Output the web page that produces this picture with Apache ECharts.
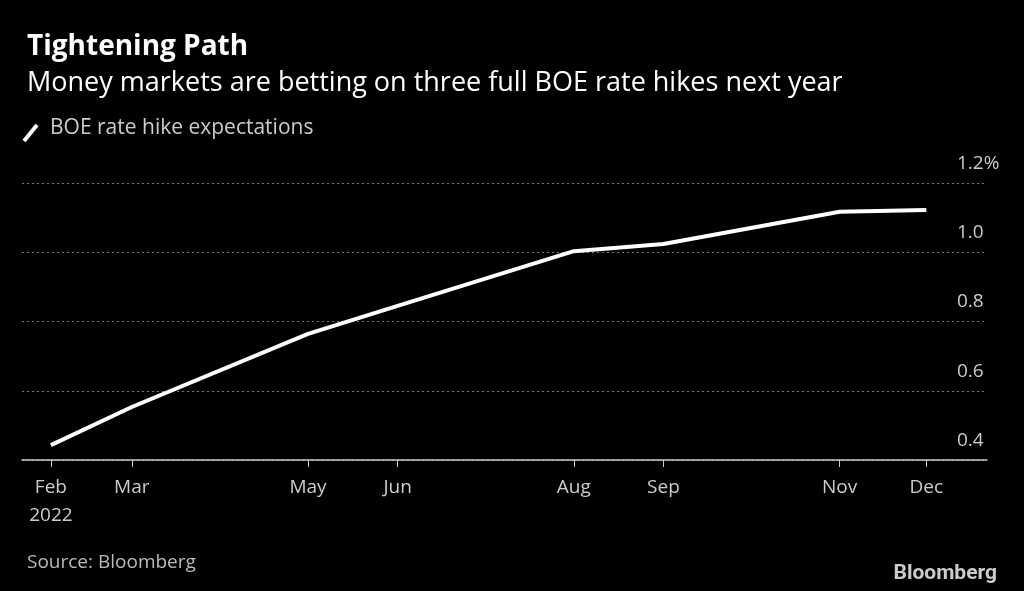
<!DOCTYPE html>
<html><head><meta charset="utf-8">
<script src="https://cdn.jsdelivr.net/npm/echarts@6/dist/echarts.min.js"></script>
<style>html,body{margin:0;background:#000}#c{width:1024px;height:591px}</style>
</head><body><div id="c"></div>
<script>
const dates = ['2022-02-01','2022-03-01','2022-05-01','2022-06-01','2022-08-01','2022-09-01','2022-11-01','2022-12-01'];
const values = [0.443, 0.553, 0.764, 0.845, 1.003, 1.024, 1.117, 1.122];
const tickDates = dates;
const monthNames = ['Jan','Feb','Mar','Apr','May','Jun','Jul','Aug','Sep','Oct','Nov','Dec'];
const ts = d => Date.UTC(+d.slice(0,4), +d.slice(5,7) - 1, +d.slice(8,10));
const ff = '"Open Sans", "Noto Sans", sans-serif';

const chart = echarts.init(document.getElementById('c'));
chart.setOption({
  backgroundColor: '#000',
  animation: false,
  title: [
    {text: 'Tightening Path', left: 22, top: 28, textStyle: {color: '#fff', fontSize: 28, fontWeight: 'bold', fontFamily: ff}},
    {text: 'Money markets are betting on three full BOE rate hikes next year', left: 22, top: 65, textStyle: {color: '#fff', fontSize: 27, fontWeight: 'normal', fontFamily: ff}},
    {text: 'Source: Bloomberg', left: 22, top: 548, textStyle: {color: '#bbb', fontSize: 19, fontWeight: 'normal', fontFamily: ff}},
    {text: 'Bloomberg', right: 22, top: 558, textStyle: {color: '#ccc', fontSize: 21, fontWeight: 'bold', fontFamily: 'Roboto, sans-serif'}}
  ],
  graphic: [
    {type: 'line', shape: {x1: 24, y1: 141, x2: 37, y2: 125}, style: {stroke: '#fff', lineWidth: 4}},
    {type: 'text', left: 50, top: 118, style: {text: 'BOE rate hike expectations', fill: '#ccc', font: '21px ' + ff}}
  ],
  grid: {left: 22, right: 37, top: 183, bottom: 131},
  xAxis: {
    type: 'value',
    min: ts('2022-01-22'), max: ts('2022-12-22'),
    axisLine: {show: true, lineStyle: {color: '#ccc', width: 1.5}},
    axisTick: {show: true, customValues: tickDates.map(ts), length: 7, lineStyle: {color: '#ccc'}},
    axisLabel: {
      customValues: tickDates.map(ts),
      color: '#ccc', fontSize: 19, fontFamily: ff, margin: 14, lineHeight: 28,
      formatter: v => { const d = new Date(v); const m = monthNames[d.getUTCMonth()]; return d.getUTCMonth() === 1 ? m + '\n' + d.getUTCFullYear() : m; }
    },
    splitLine: {show: false}
  },
  yAxis: {
    type: 'value', position: 'right', min: 0.4, max: 1.2, interval: 0.2,
    axisLine: {show: false}, axisTick: {show: false},
    axisLabel: {
      color: '#ccc', fontSize: 19, fontFamily: ff,
      align: 'left', margin: -30, verticalAlign: 'bottom', padding: [0, 0, 10, 0],
      formatter: v => v >= 1.19 ? v.toFixed(1) + '%' : v.toFixed(1)
    },
    splitLine: {show: true, lineStyle: {color: '#777', type: [2, 3]}}
  },
  series: [{
    type: 'line', data: dates.map((d, i) => [ts(d), values[i]]),
    showSymbol: false, lineStyle: {color: '#fff', width: 4}
  }]
});
</script></body></html>
